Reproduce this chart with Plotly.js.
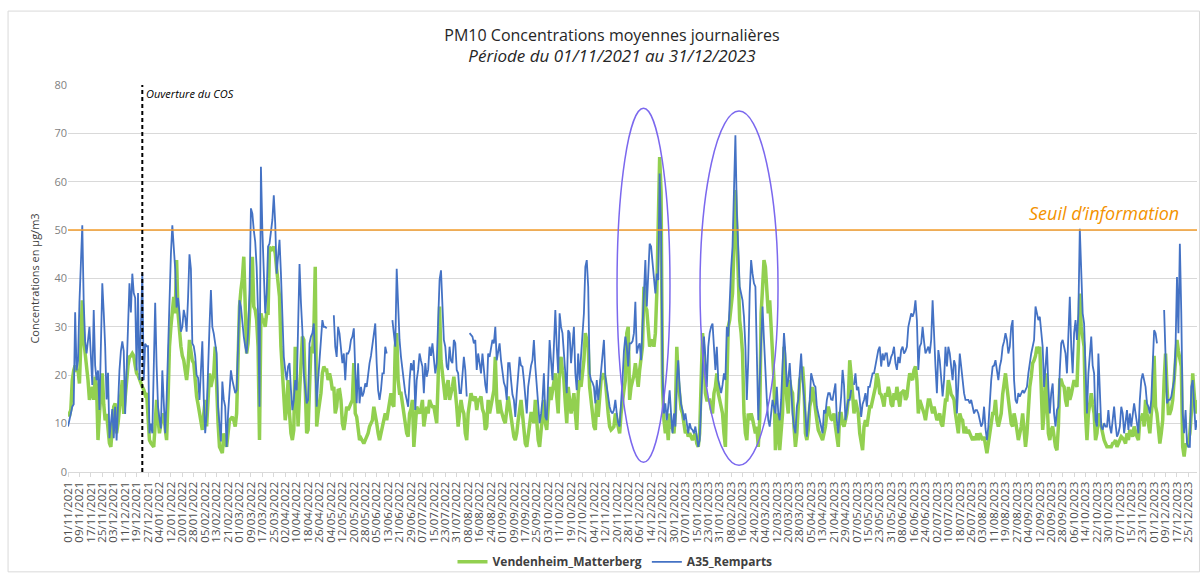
<!DOCTYPE html>
<html><head><meta charset="utf-8">
<script src="https://cdn.plot.ly/plotly-3.0.1.min.js"></script>
<style>html,body{margin:0;padding:0;background:#fff}#chart{width:1200px;height:574px}</style>
</head><body><div id="chart"></div>
<script>
// Daily PM10 means, first value = 01/11/2021, last = 31/12/2023 (null = missing day)
const startDate = '2021-11-01';
const cosOpeningDate = '2021-12-23';
const informationThreshold = 50;
const seriesNames = ['Vendenheim_Matterberg', 'A35_Remparts'];

const vendenheim = [
12.5,11.5,13,19,21,22,21,21,18.3,26,
35.5,27.3,24.5,23.1,19,14.9,16,17.6,14.9,19.7,
17.6,6.6,12,17,20.4,14,10.7,12,8.7,6,
5.2,9,13.5,14.2,8,10,12.8,16,19,12,
16,20.4,22,23.8,24,24.5,24,22,20.4,20,
19,18,17.6,17,16,16.3,12,6.6,6,5.5,
5.2,10,14.9,11,8,10,11,12.1,9,6.6,
15,25.9,30,34,36.2,32.8,43.8,32.8,28,26,
24,23.1,21,19,22,27.3,25,23,22.5,18,
15.6,14,12.1,10,8.7,12,14.9,9.4,15,20.4,
17.6,19,20.4,25.9,14.9,10.1,5.2,4.5,3.9,8,
6.5,5.2,8,10.7,11,11.4,10.7,9.4,12.1,21.8,
34.2,37.6,40,44.5,32.8,24.5,26.6,32.8,38,44.5,
34.2,33.5,31.4,25.9,6.6,32.8,31.4,31.4,30,32.8,
32.8,46.6,45.9,46,46.6,45.2,42,39.7,36.2,25.9,
21.1,15,10.7,13.5,19,12.1,8,6.6,8.7,25.9,
14.9,9.4,16.3,22,28,27.3,15,8,8.7,20,
25.9,24.5,28.7,42.4,9.4,12.1,14,16.3,20.4,21.8,
21.1,21.1,19,20.4,19,16.9,17.6,12.1,13.5,16.9,
17,14.9,10,8.7,10.7,13.5,12.8,13.5,14,14.9,
22.5,12.1,11.4,9.4,6.6,7,6.6,5.9,6.6,7.3,
8,9.4,10,10.7,13.5,12.1,10.1,8,6.6,8,
9.4,11.4,12.1,10.7,12.8,14.9,16.3,14,13.5,25.9,
28.7,19,16.3,16.3,14,12.8,9.4,8,7.3,12.1,
13,14.9,5.2,9.4,13.5,12.8,12.1,13,14.9,9.4,
12.1,13.5,12.1,14.9,14,13.5,13.5,12.1,10.1,19,
34.2,23.1,20,16.3,14.9,17.6,19,14.9,16,17.6,
19.7,16.9,13.5,9.4,12.1,14.9,13,12.1,8,6.6,
12.1,14.9,16.3,15,14.9,15.6,12.8,14.9,14.9,15.6,
13,12.1,8.7,9.4,14.9,12.1,14,16,16.9,23.8,
14.9,12.1,14.9,12.8,11.5,10.7,10.1,13.5,15.6,13.5,
11.5,10.1,7.3,6.6,8,10.7,13.5,14.9,12,9.4,
5.9,5.2,8,9.4,12.1,12.1,10.1,14.9,9.4,6.6,
5.2,8.7,11,14.9,10.1,8.7,13.5,17.6,14.9,17,
19,20.4,15.6,12.1,22.5,23.8,21,19,14.2,10.1,
17.6,14.9,12.1,14,16.3,12.1,8.7,16.3,19,17.6,
20,23.1,28.7,27.3,25.9,17.6,14.9,12,9.4,8.7,
14.9,11.4,14.9,19,19.7,20.4,19,14.9,12.1,9.4,
8.7,9,9.4,12.1,10.7,8.7,8,12.1,14,16.9,
19,28.7,30,14.9,17.6,19,20,22.5,20.4,17.6,
21.1,23,25.9,38.3,34.2,33.5,28.7,25.9,27,27.3,
25.9,28.7,36.9,52.1,65.1,57.9,17.6,10.7,8,10.7,
6.6,12.1,9.4,9,8,12.1,25.9,19,14.9,13,
12.1,9.4,8,8.7,7.3,8,7,6.6,7.3,8,
5.9,5.2,8,18,28.7,24.5,16.3,14.9,14.9,14.9,
13,12.1,16.3,17.6,20.4,16.3,14.9,13,12.1,8,
5.2,17.6,30,31.4,34,36.9,46.6,58.3,50,42.4,
31.4,28.7,24.5,12.1,8,6.6,12.1,10.7,12.1,11,
9.4,8,9.4,5.2,10.7,32.8,38,43.8,42.4,36.9,
32.8,35.5,30,27.3,19,4.5,8,12.1,4.5,8,
12.1,25.9,19,14.9,12.1,19,17,16.3,9.4,5.2,
8,13.5,19,20,21.8,17.6,8,6.6,8.7,13.5,
15,17.6,14.9,12.1,10.7,8.7,8,7,6.6,8,
9.4,12.1,13.5,12.1,11,10.7,12.1,9.4,6.6,5.2,
12.1,12.1,10,9.4,10.7,12.1,14.9,23.1,20,15.6,
12.1,14.9,13.5,12.1,8,6,4.5,9.4,10.7,9.4,
12.1,13.5,13.5,14.9,16.3,17.6,20.4,19,16.3,16,
14.9,13.5,16.3,15.6,17.6,16.3,14,13.5,16.3,14.9,
17.6,14.9,13.5,16.3,16.5,16.9,14.9,15.6,18.3,20.4,
19.5,19,21.1,21.8,19,12.1,14.9,14,13.5,12.1,
10.7,13.5,14.9,14.9,13,12.1,13.5,12.1,10.7,11.4,
12.1,10,9.4,12.1,14.9,14.9,19,17.6,16,15.6,
14.9,12.1,9.4,8,12.1,11,10.7,8,9.4,8,
8.7,8,7,6.6,7.3,6.6,8,6.6,8,7,
6.6,7.3,5.2,3.9,5.9,8,10,12.1,12.1,14.9,
10.7,9.4,10.7,12.1,16,19,20.4,17.6,14.9,12.1,
10,9.4,12.1,10.7,8,6.6,8,9.4,12.1,9.4,
5.2,8,13.5,17.6,19.7,22.5,23.1,24,25.9,24.5,
25.9,17,8.7,12.1,20.4,16.3,8,6.6,8.7,9.4,
7,5.2,4.5,9.4,19,19,18,17.6,14.9,13.5,
17.6,14.9,16,17.6,19,18.3,17.6,25.9,36.9,30,
28,25.9,12.1,6.6,12.1,14.9,16.3,14,12.1,6.6,
8,12.1,10.7,9,8,6.6,5.9,5.2,5.2,5.2,
5.2,5.9,6,6.6,5.2,5.9,6.6,7.3,7,6.6,
5.9,8,6.6,8.7,8,7.3,9.4,8,7.3,6.6,
10.7,11,12.1,9.4,14.9,12.1,9.4,8,12,14.9,
24,13.5,12.1,8,5.9,8,10.7,19,24.5,17.6,
12.1,12.1,13,14.9,19,22.5,27.3,25,23.1,21.8,
5.2,3.2,5.9,5.2,6.5,8,12.1,20.4,16.3,12.1,14.9
];

const a35 = [
9.4,11,12.5,13.5,14,33,21,23,35,45,
51,35,27,24.5,27,30,24,18,33.5,22,
19,21,12.8,25,39,33,26,15,20.5,7,
10,13,7,13.5,6.5,14,21,25,27,25,
12,21,30,39,33,41,37,36,21,37,
19,30,41,19,26.5,26,26,8,10,8,
20,35,22,13.5,11,9,21,14,8,15,
26,36,45,51,46,42,34,36,33,29,
30,33.5,32,29,36,45,42,26.6,26,24,
20,19.5,14.9,20,27,15,8,12,22.5,30,
37.6,30,28.6,26,24.5,13.5,9.4,6.3,18.7,15,
13.5,5.2,12,17,21,19,17.6,16.3,16.9,25.9,
35.5,34.2,30,28,25.9,24.5,28.7,36.9,54.5,53.4,
50,47.6,42.4,32.8,13.5,63.1,50,41,32.8,36.9,
46.6,47.2,50,52.1,57.2,51.4,41,45,48,41,
32.8,23.8,21,19,21.8,22.5,17,12.8,14.9,19,
16.9,28,43,35,29.3,20.4,17,14.2,14.9,26.6,
28,28.7,30.7,22,13.5,19,24,28.7,31.4,30,
30,29.7,null,null,null,null,32.4,25.9,23.8,30,
28.6,25,22.5,24.5,19,24.5,24.5,25.2,27.3,28,
29.7,21.1,14.2,22.5,14.2,17.6,15.6,16.5,18.3,17.6,
20.4,22.5,24,25.9,28.7,30.7,22.5,16.9,14.9,17,
20.4,20.4,25.9,24.5,null,null,null,31.4,28,25.9,
42,34.2,27.3,23.8,21,19,16.3,14.9,13.5,19,
22.5,21,23.1,12.8,19,21.1,24.5,23,21.8,16.3,
22.5,19.7,21.1,25.9,24,26.6,22.5,20.4,22.5,33.5,
39.7,41.7,34,27.3,25.9,21.8,21.1,25.9,23,22.5,
27.3,26.6,21.1,20.4,16.3,16.3,20,23.8,21.1,15.6,
null,28.7,28.2,28,26.6,27.3,21.1,24.5,22.5,20.4,
24.5,20.4,18,16.3,24.5,23.8,26,27.3,26.6,30,
23.1,24.5,26.6,23.1,20.4,18.5,17.6,14.9,22.5,22.5,
19,16,14.9,11.4,16.3,20.4,23.8,22,21.8,19,
14.9,12.1,17.6,20.4,22,23.1,27.3,21.8,18.3,13.5,
10.1,12,14.9,20.4,11.4,10.7,19,27.3,23.1,19,
26,33.5,25.9,20.4,32.8,30,28.7,23.8,19,16.3,
29.3,28.7,22.5,26,30,20.4,16.9,24.5,19,24,
29.3,32.8,42.4,43.8,38.3,20.4,19,18.5,17.6,14.2,
19,14.9,17.6,20.4,24,27.3,19.7,17.6,14.9,13.5,
12.5,12.1,12.8,14.9,12.1,10.1,9.4,13.5,19,25,
28,25.9,21.8,26.6,26.6,27,28.7,35.2,24.5,25.9,
26.6,23.1,30,39.7,43.8,34.2,42.4,47.2,46.6,43,
41,36.9,41,39.7,61.7,50,20.4,12.1,14.2,10.7,
13.5,16.9,12,8,12.1,9.4,19,23.1,17.6,14,
12.8,10.7,12.1,9.4,8,10.1,9,8.7,8,9.4,
6.6,5.2,6.6,15,23.1,28,23.8,17.6,25.9,28.7,
30,30.7,25.9,21.1,25.9,19,17.6,16.3,18,20.4,
19,30,28,36.9,42,46.6,58.3,69.6,54,45.2,
38.3,36.9,35.5,32.1,25.9,14.9,23.1,36.9,43.8,41,
39,38.3,25.9,10.7,19,28.7,34.2,27.3,19,14.9,
10.7,9.4,12.1,14.9,13.5,12.1,17.6,12.1,10.7,14.9,
22,28.7,24.5,17.6,19,22.5,17.6,12,9.4,8,
13.5,14.9,20.4,24.5,19,16,12.1,7.3,10.7,14.9,
20.4,19,18,17.6,13.5,12.1,10.7,9,8,12.8,
12.1,14.9,16.3,16.3,15,14.9,16.3,18.3,10.7,8,
12.1,15.6,21.1,18,10.7,13.5,14.9,14.9,17,null,
18,20.4,16.9,17.6,14.9,11.4,14,14.9,16.3,13.5,
17.6,17.6,19,20.4,20.4,22,23.1,25.2,25.9,21.8,
24.5,23.1,24.5,24.5,21.8,22.5,23.8,24.5,25.9,22.5,
21.1,23.8,22.5,25.2,25.9,24.5,25,25.9,30,31.4,
32.8,32.1,33,35.5,31.4,21.1,25.9,26.6,30,27,
24.5,25.2,25.9,24.5,27.3,35.5,27.3,21.8,16.3,25.2,
23.1,19,15.6,19,25.9,21.8,25.9,24.5,21.8,19,
23.1,22,12.1,19,24.5,21.8,19,16.3,14.9,14.9,
14.9,14.2,14.9,13.5,12.1,12.8,12.8,12.1,10.7,9.4,
10.1,13.5,9,6.6,9.4,14.9,19,21.8,22,23.1,
20.4,19,21.8,23.1,25.9,27,28.7,27.3,24.5,25.9,
30,31.4,19,14.9,14.2,16.3,15.6,16.3,16.9,16.3,
17,17.6,20.4,23.1,24.5,25.9,27.3,34.2,32.8,31.4,
32.1,28,25.9,17.6,23.1,25.9,17.6,12.1,16.3,18.3,
12,9.4,12.8,13.5,21.1,26.6,27.3,26,24.5,20.4,
27.3,36.2,25.9,20.4,28.7,31.4,27.3,32.8,50.3,39.7,
32.8,30.7,23.1,12.1,20.4,24.5,28,22,20.4,10.7,
9.4,24.5,14.9,9.4,8.7,10.1,9.4,9.4,12.8,9.4,
8,10.7,13.5,10,7.3,8,9.4,13.5,12.1,8,
10,12.8,8.7,12.1,9.4,12,14.2,12.1,10.1,8,
14.9,19,20.4,19,17.6,14.2,13.5,12.1,14.9,22,
29.3,28.7,26.6,null,null,null,null,33.5,23.8,14.2,
14.9,14.9,15.6,17,19,25.9,40.3,28.7,47.2,32.8,
12.1,8,12.8,5.9,5.2,5.2,17.6,19,13.5,8.7,10.7
];

// Day-by-day dates for the category axis
const nDays = Math.max(vendenheim.length, a35.length);
const dates = [];
const t0 = Date.parse(startDate + 'T00:00:00Z');
for (let i = 0; i < nDays; i++) dates.push(new Date(t0 + i * 86400000).toISOString().slice(0, 10));
const endDate = dates[dates.length - 1];

const FONT = 'Open Sans, Liberation Sans, sans-serif';

const traces = [
  {x: dates, y: vendenheim, type: 'scatter', mode: 'lines', name: seriesNames[0],
   line: {color: '#92D050', width: 3.5}, connectgaps: false, hoverinfo: 'x+y'},
  {x: dates, y: a35, type: 'scatter', mode: 'lines', name: seriesNames[1],
   line: {color: '#4472C4', width: 1.8}, connectgaps: false, hoverinfo: 'x+y'}
];

const layout = {
  width: 1200, height: 574,
  margin: {l: 68, r: 3, t: 85, b: 102, autoexpand: false},
  paper_bgcolor: '#ffffff', plot_bgcolor: '#ffffff',
  font: {family: FONT, color: '#595959'},
  title: {
    text: 'PM10 Concentrations moyennes journalières<br><i><span style="font-size:17px">Période du 01/11/2021 au 31/12/2023</span></i>',
    xref: 'container', x: 0.51, xanchor: 'center',
    yref: 'container', y: 1 - 41 / 574, yanchor: 'top',
    font: {family: FONT, size: 16, color: '#262626'}
  },
  showlegend: true,
  legend: {orientation: 'h', x: 0.4845, xanchor: 'center', y: -0.232, yanchor: 'middle',
           font: {family: FONT, size: 12, color: '#404040', weight: 'bold'},
           itemwidth: 30, bgcolor: 'rgba(0,0,0,0)'},
  xaxis: {
    type: 'date', range: [startDate, endDate], automargin: false,
    tick0: startDate, dtick: 8 * 86400000, tickformat: '%d/%m/%Y',
    tickangle: -90, tickfont: {family: FONT, size: 11.5, color: '#4d4d4d'},
    showgrid: false, zeroline: false,
    showline: true, linecolor: '#d9d9d9', linewidth: 1,
    ticks: 'outside', ticklen: 4, tickcolor: '#d9d9d9'
  },
  yaxis: {
    range: [0, 80], dtick: 10, tick0: 0, automargin: false,
    showgrid: true, gridcolor: '#d9d9d9', gridwidth: 1,
    zeroline: false, showline: false, ticks: '',
    tickfont: {family: FONT, size: 11, color: '#7f7f7f'},
    title: {text: 'Concentrations en µg/m3', font: {family: FONT, size: 11, color: '#404040'}, standoff: 12}
  },
  shapes: [
    // chart area border
    {type: 'rect', xref: 'paper', yref: 'paper', x0: -0.0531, x1: 1.0022, y0: -0.258, y1: 1.191,
     line: {color: '#d9d9d9', width: 1}, fillcolor: 'rgba(0,0,0,0)', layer: 'below'},
    // information threshold
    {type: 'line', xref: 'paper', yref: 'y', x0: 0, x1: 1, y0: informationThreshold, y1: informationThreshold,
     line: {color: '#F39C2B', width: 1.5}},
    // COS opening
    {type: 'line', xref: 'x', yref: 'y', x0: cosOpeningDate, x1: cosOpeningDate, y0: 0, y1: 80,
     line: {color: '#000000', width: 2, dash: '4px,3px'}},
    // highlight ellipses
    {type: 'circle', xref: 'paper', yref: 'y', x0: 0.4863, x1: 0.5332, y0: 2.0, y1: 75.2,
     line: {color: '#7B68EE', width: 1.5}},
    {type: 'circle', xref: 'paper', yref: 'y', x0: 0.5598, x1: 0.6289, y0: 1.4, y1: 74.6,
     line: {color: '#7B68EE', width: 1.5}}
  ],
  annotations: [
    {xref: 'x', yref: 'y', x: cosOpeningDate, y: 78.2, xanchor: 'left', yanchor: 'middle', xshift: 2,
     text: '<i>Ouverture du COS</i>', showarrow: false,
     font: {family: FONT, size: 11, color: '#000000'}},
    {xref: 'paper', yref: 'y', x: 0.918, y: 53.5, xanchor: 'center', yanchor: 'middle',
     text: '<i>Seuil d’information</i>', showarrow: false,
     font: {family: FONT, size: 18, color: '#F39200'}}
  ]
};

Plotly.newPlot('chart', traces, layout, {displayModeBar: false, staticPlot: true}).then(function () {
  if (vendenheim.length !== 791 || a35.length !== 791) {
    throw new Error('length mismatch ' + vendenheim.length + ' ' + a35.length);
  }
});
</script>
</body></html>
